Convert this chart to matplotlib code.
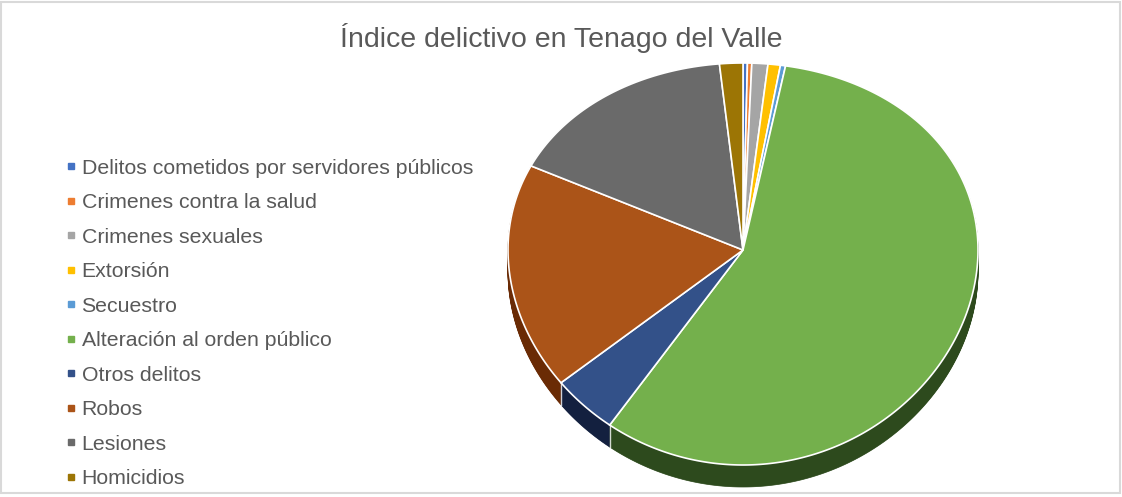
import numpy as np
import matplotlib.pyplot as plt
from matplotlib.patches import Rectangle, Polygon
from matplotlib.lines import Line2D

plt.rcParams['font.family'] = ['Liberation Sans', 'DejaVu Sans']

categorias = ['Delitos cometidos por servidores públicos', 'Crimenes contra la salud',
              'Crimenes sexuales', 'Extorsión', 'Secuestro', 'Alteración al orden público',
              'Otros delitos', 'Robos', 'Lesiones', 'Homicidios']
valores = [0.3, 0.3, 1.1, 0.85, 0.35, 56.7, 4.5, 18.0, 16.3, 1.6]
colores = ['#4472C4', '#ED7D31', '#A5A5A5', '#FFC000', '#5B9BD5',
           '#74B04C', '#335189', '#AB5418', '#6A6A6A', '#9C7505']
colores_lado = ['#22396A', '#7A3D12', '#555555', '#7F6000', '#2E5070',
                '#2D4A1D', '#13203F', '#6A2B05', '#333333', '#4D3A02']

W, H = 1122, 497
fig = plt.figure(figsize=(W / 100, H / 100), dpi=100)
ax = fig.add_axes([0, 0, 1, 1])

# angles of each slice come from matplotlib's own pie
wedges, _ = ax.pie(valores, startangle=90, counterclock=False)
angulos = [(w.theta1, w.theta2) for w in wedges]
for w in wedges:
    w.remove()

ax.set_aspect('auto')
ax.set_xlim(0, W)
ax.set_ylim(H, 0)
ax.axis('off')

# 3D look: slight perspective, top ellipse x 508..978, y 63..465, vertex at (743, 250)
cx, cy, rx, ry, rq = 743, 250, 235, 201, 14
prof = 22


def proyectar(theta, d=0):
    t = np.radians(theta)
    y = np.sin(t)
    return cx + rx * np.cos(t), cy - ry * y + rq * y ** 2 + d


def cuña(t1, t2, d=0):
    th = np.linspace(t1, t2, max(int(abs(t2 - t1) * 2), 3))
    xs, ys = proyectar(th, d)
    return np.column_stack([np.r_[cx, xs], np.r_[cy + d, ys]])


# side walls: stacked darker layers
for d in np.linspace(prof, 0.5, 30):
    for (t1, t2), c in zip(angulos, colores_lado):
        ax.add_patch(Polygon(cuña(t1, t2, d), closed=True, facecolor=c, edgecolor=c, lw=0.5))

# light seams on the front wall at slice boundaries
for t1, _t2 in angulos:
    if np.sin(np.radians(t1)) < -0.05:
        xb, yb = proyectar(t1)
        ax.plot([xb, xb], [yb, yb + prof], color='white', lw=1, alpha=0.8)

# top surface
for (t1, t2), c in zip(angulos, colores):
    ax.add_patch(Polygon(cuña(t1, t2), closed=True, facecolor=c, edgecolor='white', lw=1.2))

fig.text(0.5, 1 - 38 / H, 'Índice delictivo en Tenago del Valle', ha='center', va='center',
         fontsize=20.5, color='#595959')

handles = [Line2D([], [], marker='s', linestyle='', markersize=4.5, color=c) for c in colores]
fig.legend(handles, categorias, loc='upper left', bbox_to_anchor=(56 / W, 1 - 150 / H),
           frameon=False, fontsize=15.3, labelcolor='#595959', labelspacing=0.73,
           handlelength=0.6, handletextpad=0.2, borderaxespad=0)

fig.add_artist(Rectangle((1 / W, 4 / H), 1 - 3 / W, 1 - 6 / H, transform=fig.transFigure,
                         fill=False, edgecolor='#D9D9D9', linewidth=1.5))

fig.savefig('out.png', dpi=100)
